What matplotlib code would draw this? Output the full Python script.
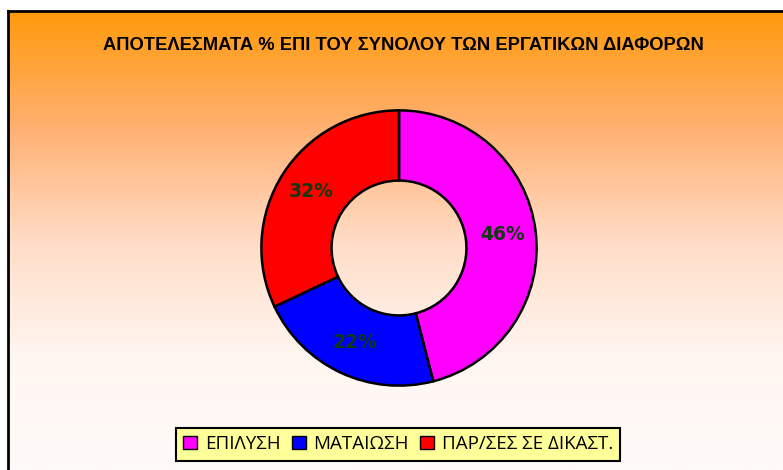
import matplotlib
matplotlib.use("Agg")
import matplotlib.pyplot as plt
import numpy as np
from matplotlib.colors import LinearSegmentedColormap
from matplotlib.patches import Patch

title = "ΑΠΟΤΕΛΕΣΜΑΤΑ % ΕΠΙ ΤΟΥ ΣΥΝΟΛΟΥ ΤΩΝ ΕΡΓΑΤΙΚΩΝ ΔΙΑΦΟΡΩΝ"
categories = ["ΕΠΙΛΥΣΗ", "ΜΑΤΑΙΩΣΗ", "ΠΑΡ/ΣΕΣ ΣΕ ΔΙΚΑΣΤ."]
values = [46, 22, 32]
colors = ["#FF00FF", "#0000FF", "#FF0000"]

W, H = 783, 470
fig = plt.figure(figsize=(W / 100, H / 100), dpi=100)
fig.patch.set_facecolor("white")

# gradient background frame
bx0, by_top = 8, 11
bg = fig.add_axes([bx0 / W, 0, (W - bx0) / W, (H - by_top) / H])
cmap = LinearSegmentedColormap.from_list("g", ["#FF9A0A", "#FFB070", "#FFDCC6", "#FFF6F1", "#FFFBF9"])
grad = np.linspace(0, 1, 256).reshape(-1, 1)
bg.imshow(grad, aspect="auto", cmap=cmap, extent=[0, 1, 0, 1], origin="upper")
bg.set_xlim(0, 1)
bg.set_ylim(0, 1)
bg.set_xticks([])
bg.set_yticks([])
for s in ["right", "bottom"]:
    bg.spines[s].set_visible(False)
for s in ["left", "top"]:
    bg.spines[s].set_linewidth(2)
    bg.spines[s].set_color("black")

fig.text(403 / W, 1 - 45 / H, title, ha="center", va="center", fontsize=13.2,
         fontweight="bold", family=["Liberation Sans", "DejaVu Sans"])

# donut
cx, cy, R = 399, 248, 139
ax = fig.add_axes([(cx - R) / W, 1 - (cy + R) / H, 2 * R / W, 2 * R / H])
ax.set_aspect("equal")
wedges, texts, autotexts = ax.pie(
    values, colors=colors, startangle=90, counterclock=False,
    radius=1.0, autopct="%1.0f%%", pctdistance=0.76,
    wedgeprops=dict(width=0.51, edgecolor="black", linewidth=1.8),
    textprops=dict(color="#0F3A0F", fontsize=13.5, fontweight="bold", family="DejaVu Sans"))
ax.set_xlim(-1.01, 1.01)
ax.set_ylim(-1.01, 1.01)
ax.axis("off")

handles = [Patch(facecolor=c, edgecolor="black", linewidth=1) for c in colors]
leg = fig.legend(handles, categories, loc="center", bbox_to_anchor=(398 / W, 1 - 444 / H),
                 ncol=3, frameon=True, fancybox=False,
                 handlelength=0.75, handleheight=0.75, handletextpad=0.4, columnspacing=0.6,
                 borderpad=0.4, prop=dict(family="Open Sans", size=13.5))
leg.get_frame().set_facecolor("#FFFF99")
leg.get_frame().set_edgecolor("black")
leg.get_frame().set_linewidth(1.5)
leg.get_frame().set_alpha(1)

fig.savefig("out.png", dpi=100, facecolor="white")
